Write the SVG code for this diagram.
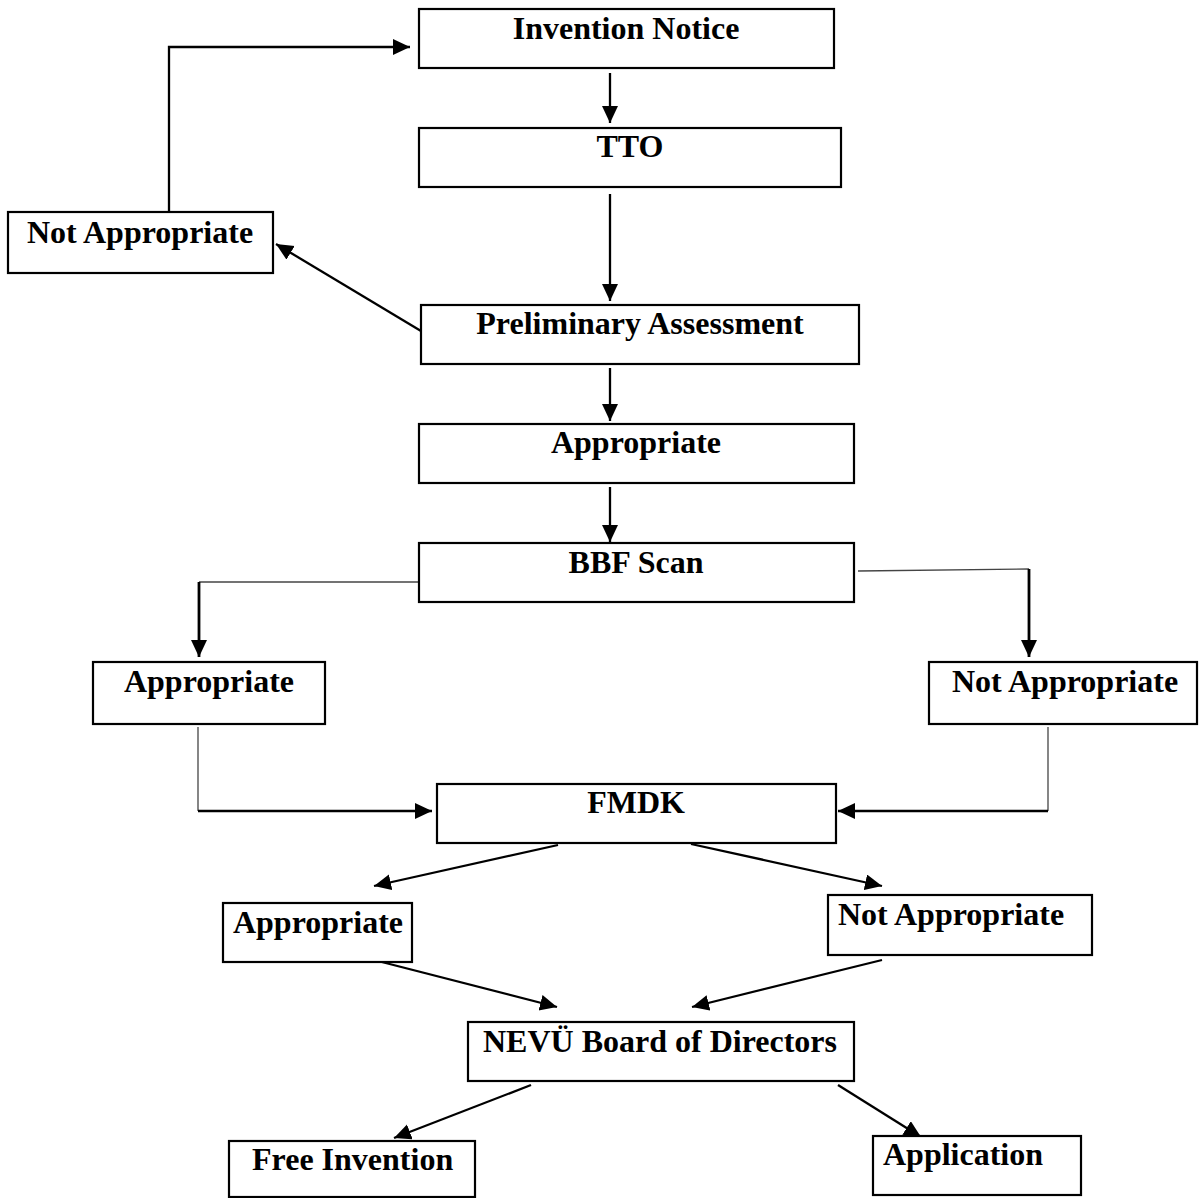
<svg xmlns="http://www.w3.org/2000/svg" width="1199" height="1198" viewBox="0 0 1199 1198">
  <defs>
    <marker id="ah" markerUnits="userSpaceOnUse" markerWidth="19" markerHeight="17" refX="17" refY="8" orient="auto">
      <path d="M0,0 L17,8 L0,16 z" fill="#000"/>
    </marker>
    <style>
      .box { fill: #fff; stroke: #000; stroke-width: 2.2; }
      .lbl { font-family: "Liberation Serif", "Times New Roman", serif; font-weight: bold; font-size: 32px; fill: #000; }
      .c { text-anchor: middle; }
      .conn { fill: none; stroke: #000; stroke-width: 2.3; }
      .thin { fill: none; stroke: #444; stroke-width: 1.3; }
      .thick { fill: none; stroke: #000; stroke-width: 2.8; }
    </style>
  </defs>
  <rect width="1199" height="1198" fill="#fff"/>

  <g id="connectors">
    <line class="conn" x1="610" y1="73" x2="610" y2="123" marker-end="url(#ah)"/>
    <line class="conn" x1="610" y1="194" x2="610" y2="301" marker-end="url(#ah)"/>
    <line class="conn" x1="421" y1="331" x2="276" y2="244" marker-end="url(#ah)"/>
    <polyline class="conn" points="169,212 169,47 410,47" marker-end="url(#ah)"/>
    <line class="conn" x1="610" y1="368" x2="610" y2="421" marker-end="url(#ah)"/>
    <line class="conn" x1="610" y1="487" x2="610" y2="542" marker-end="url(#ah)"/>
    <polyline class="thin" points="422,582 199,582"/>
    <line class="thick" x1="199" y1="582" x2="199" y2="657" marker-end="url(#ah)"/>
    <polyline class="thin" points="858,571 1029,569"/>
    <line class="thick" x1="1029" y1="569" x2="1029" y2="657" marker-end="url(#ah)"/>
    <polyline class="thin" points="198,727 198,811"/>
    <line class="conn" x1="198" y1="811" x2="432" y2="811" marker-end="url(#ah)"/>
    <polyline class="thin" points="1048,727 1048,811"/>
    <line class="conn" x1="1048" y1="811" x2="838" y2="811" marker-end="url(#ah)"/>
    <line class="conn" x1="558" y1="845" x2="374" y2="886" marker-end="url(#ah)"/>
    <line class="conn" x1="691" y1="844" x2="882" y2="886" marker-end="url(#ah)"/>
    <line class="conn" x1="374" y1="960" x2="557" y2="1007" marker-end="url(#ah)"/>
    <line class="conn" x1="882" y1="960" x2="692" y2="1007" marker-end="url(#ah)"/>
    <line class="conn" x1="531" y1="1085" x2="394" y2="1138" marker-end="url(#ah)"/>
    <line class="conn" x1="838" y1="1085" x2="921" y2="1137" marker-end="url(#ah)"/>
  </g>

  <g id="invention-notice">
    <rect class="box" x="419" y="9" width="415" height="59"/>
    <text class="lbl c" x="626" y="39">Invention Notice</text>
  </g>
  <g id="tto">
    <rect class="box" x="419" y="128" width="422" height="59"/>
    <text class="lbl c" x="630" y="157">TTO</text>
  </g>
  <g id="not-appropriate-1">
    <rect class="box" x="8" y="212" width="265" height="61"/>
    <text class="lbl" x="27" y="243">Not Appropriate</text>
  </g>
  <g id="preliminary-assessment">
    <rect class="box" x="421" y="305" width="438" height="59"/>
    <text class="lbl c" x="640" y="334">Preliminary Assessment</text>
  </g>
  <g id="appropriate-1">
    <rect class="box" x="419" y="424" width="435" height="59"/>
    <text class="lbl c" x="636" y="453">Appropriate</text>
  </g>
  <g id="bbf-scan">
    <rect class="box" x="419" y="543" width="435" height="59"/>
    <text class="lbl c" x="636" y="573">BBF Scan</text>
  </g>
  <g id="appropriate-2">
    <rect class="box" x="93" y="662" width="232" height="62"/>
    <text class="lbl c" x="209" y="692">Appropriate</text>
  </g>
  <g id="not-appropriate-2">
    <rect class="box" x="929" y="662" width="268" height="62"/>
    <text class="lbl" x="952" y="692">Not Appropriate</text>
  </g>
  <g id="fmdk">
    <rect class="box" x="437" y="784" width="399" height="59"/>
    <text class="lbl c" x="636" y="813">FMDK</text>
  </g>
  <g id="appropriate-3">
    <rect class="box" x="223" y="903" width="189" height="59"/>
    <text class="lbl c" x="318" y="933">Appropriate</text>
  </g>
  <g id="not-appropriate-3">
    <rect class="box" x="828" y="895" width="264" height="60"/>
    <text class="lbl" x="838" y="925">Not Appropriate</text>
  </g>
  <g id="nevu-board">
    <rect class="box" x="468" y="1022" width="386" height="59"/>
    <text class="lbl c" x="660" y="1052">NEVÜ Board of Directors</text>
  </g>
  <g id="free-invention">
    <rect class="box" x="229" y="1141" width="246" height="56"/>
    <text class="lbl" x="252" y="1170">Free Invention</text>
  </g>
  <g id="application">
    <rect class="box" x="873" y="1136" width="208" height="59"/>
    <text class="lbl" x="883" y="1165">Application</text>
  </g>
</svg>
